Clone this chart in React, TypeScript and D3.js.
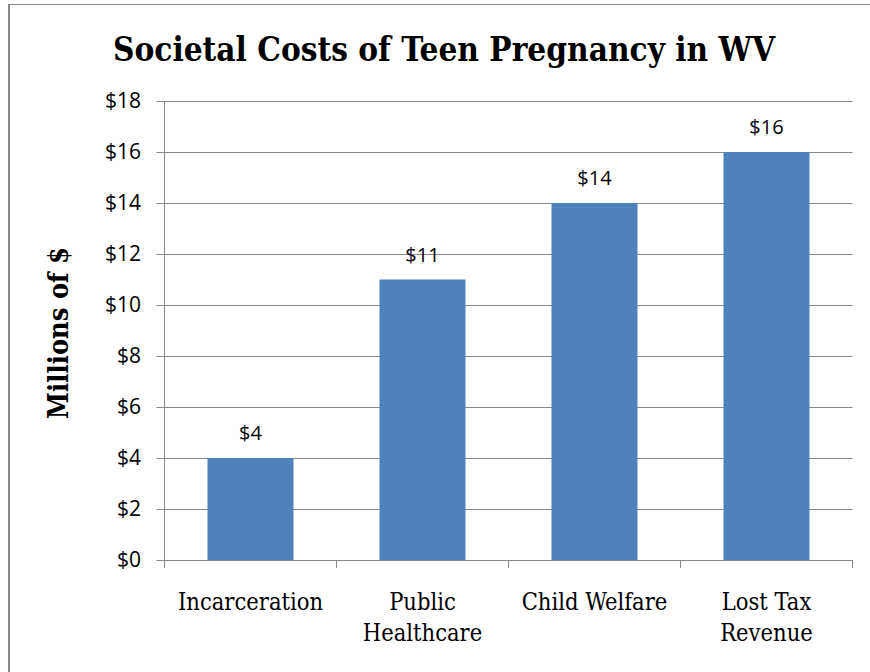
import React from "react";
import * as d3 from "d3";

const categories: string[][] = [["Incarceration"], ["Public", "Healthcare"], ["Child Welfare"], ["Lost Tax", "Revenue"]];
const values: number[] = [4, 11, 14, 16];
const yTicks: number[] = [0, 2, 4, 6, 8, 10, 12, 14, 16, 18];
const title = "Societal Costs of Teen Pregnancy in WV";
const yTitle = "Millions of $";

const W = 870, H = 672;
const left = 164.5, right = 852.5, top = 101, bottom = 560;
const serif = "'DejaVu Serif Condensed', 'DejaVu Serif', serif";
const sans = "'Open Sans', 'Liberation Sans', sans-serif";

export default function App() {
  const x = d3.scaleBand<number>().domain(d3.range(values.length)).range([left, right]).paddingInner(0.5).paddingOuter(0.25);
  const band = d3.scaleBand<number>().domain(d3.range(values.length)).range([left, right]);
  const y = d3.scaleLinear().domain([0, 18]).range([bottom, top]);
  const grid = "#888888";
  return (
    <svg width={W} height={H} style={{ position: "absolute", left: 0, top: 0 }}>
      <rect x={0} y={0} width={W} height={H} fill="#fff" />
      <line x1={9} x2={W} y1={4.5} y2={4.5} stroke={grid} strokeWidth={1} />
      <line x1={9} x2={9} y1={4} y2={H} stroke={grid} strokeWidth={2} />
      <text x={444} y={61} textAnchor="middle" fontFamily={serif} fontWeight="bold" fontSize={34} fill="#000" textLength={662} lengthAdjust="spacingAndGlyphs">{title}</text>
      {yTicks.map((t) => (
        <g key={t}>
          <line x1={left - 8} x2={right} y1={Math.round(y(t)) + 0.5} y2={Math.round(y(t)) + 0.5} stroke={grid} strokeWidth={1} />
          <text x={141} y={y(t) + 7} textAnchor="end" fontFamily={sans} fontSize={21} fill="#000">{"$" + t}</text>
        </g>
      ))}
      <line x1={left} x2={left} y1={top} y2={bottom} stroke={grid} strokeWidth={1} />
      {d3.range(values.length + 1).map((i) => {
        const xx = i < values.length ? band(i)! : right;
        return <line key={i} x1={xx} x2={xx} y1={bottom} y2={bottom + 8} stroke={grid} strokeWidth={1} />;
      })}
      {values.map((v, i) => (
        <g key={i}>
          <rect x={x(i)!} y={y(v)} width={x.bandwidth()} height={bottom - y(v)} fill="#4F81BD" />
          <text x={x(i)! + x.bandwidth() / 2} y={y(v) - 18} textAnchor="middle" fontFamily={sans} fontSize={20} fill="#000">{"$" + v}</text>
        </g>
      ))}
      {categories.map((lines, i) => (
        <text key={i} textAnchor="middle" fontFamily={serif} fontSize={23.5} fill="#000">
          {lines.map((l, j) => (
            <tspan key={j} x={band(i)! + band.bandwidth() / 2} y={610 + j * 31}>{l}</tspan>
          ))}
        </text>
      ))}
      <text transform={`translate(68,333) rotate(-90)`} textAnchor="middle" fontFamily={serif} fontWeight="bold" fontSize={27} fill="#000">{yTitle}</text>
    </svg>
  );
}
